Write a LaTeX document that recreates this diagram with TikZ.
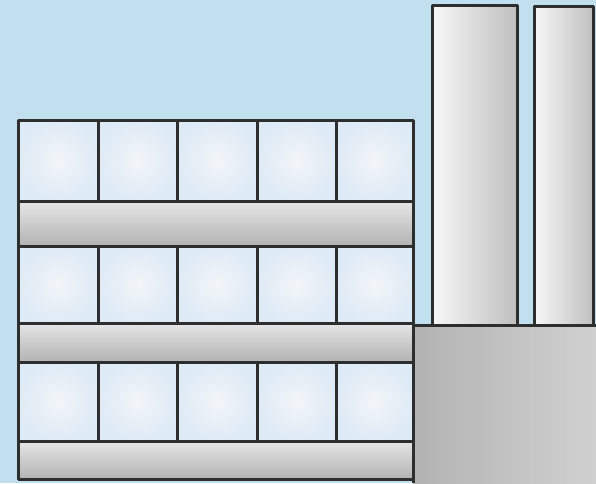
\documentclass[tikz,border=0pt]{standalone}
\begin{document}
\begin{tikzpicture}[x=1pt,y=-1pt,
  edge/.style={draw=black!82, line width=3pt, line join=round},
  cell/.style={inner color=cellin, outer color=cellout},
  beam/.style={top color=black!10, bottom color=black!30},
  tall/.style={left color=white!97!black, right color=black!25},
  base/.style={left color=black!30, right color=black!18}]
\definecolor{sky}{RGB}{194,223,240}
\definecolor{cellin}{RGB}{242,245,248}
\definecolor{cellout}{RGB}{222,234,245}
\useasboundingbox (0,0) rectangle (596,483);
\fill[sky] (0,0) rectangle (596,483);
% tall boxes
\path[tall] (432,5) rectangle (517,325);
\path[tall] (534,6) rectangle (593,325);
% big base square
\path[base] (413,325) rectangle (600,490);
% cells
\foreach \ya/\yb in {120/201, 246/323, 362/441}{
  \foreach \xa/\xb in {18/98, 98/177, 177/257, 257/336, 336/413}{
    \path[cell] (\xa,\ya) rectangle (\xb,\yb);
  }
}
% beams
\foreach \ya/\yb in {201/246, 323/362, 441/479}{
  \path[beam] (18,\ya) rectangle (413,\yb);
}
% outlines
\draw[edge] (432,325) -- (432,5) -- (517,5) -- (517,325);
\draw[edge] (534,325) -- (534,6) -- (593,6) -- (593,325);
\draw[edge] (18,120) rectangle (413,479);
\draw[edge] (413,479) -- (413,483);
\draw[edge] (413,325) -- (596,325);
\foreach \y in {201,246,323,362,441}{
  \draw[edge] (18,\y) -- (413,\y);
}
\foreach \ya/\yb in {120/201, 246/323, 362/441}{
  \foreach \x in {98,177,257,336}{
    \draw[edge] (\x,\ya) -- (\x,\yb);
  }
}
\end{tikzpicture}
\end{document}
